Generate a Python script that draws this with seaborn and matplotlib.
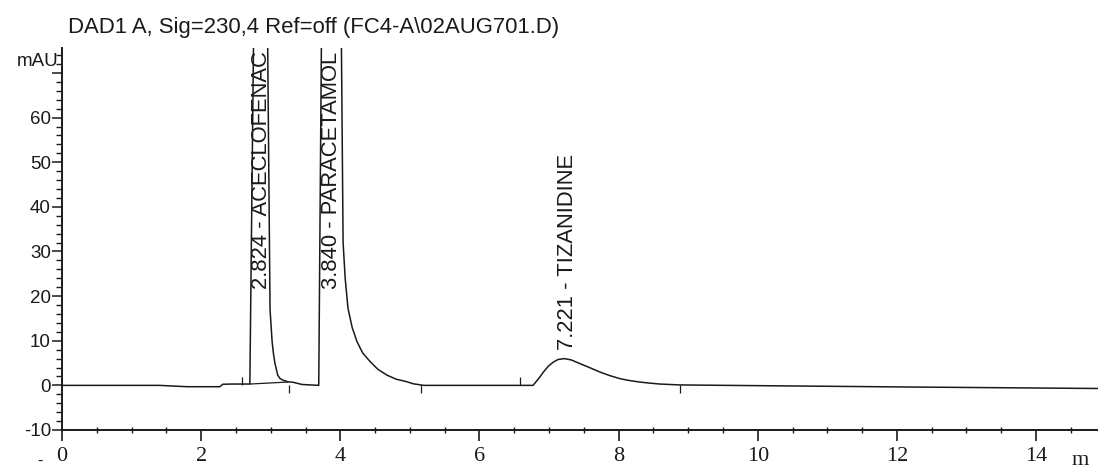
import numpy as np
import pandas as pd
import matplotlib
matplotlib.use("Agg")
import matplotlib.pyplot as plt
from matplotlib.ticker import FixedLocator, MultipleLocator
import matplotlib.transforms as mtransforms
import seaborn as sns

# DAD1 A detector trace: retention time (min) and absorbance (mAU)
time_min = [
    0.00, 1.40, 1.80, 2.27, 2.31, 2.45, 2.60, 2.70,
    2.824, 2.955, 2.99, 3.02, 3.04, 3.06, 3.10, 3.13, 3.17, 3.25, 3.32, 3.45, 3.69,
    3.840, 4.015, 4.04, 4.07, 4.11, 4.17, 4.24, 4.32, 4.43, 4.54, 4.67, 4.80,
    4.96, 5.05, 5.20,
    6.77, 6.85, 6.92, 6.99, 7.06, 7.13, 7.221, 7.32, 7.44, 7.58, 7.73, 7.87,
    8.02, 8.15, 8.30, 8.45, 8.59, 8.88, 9.20,
    12.05, 14.90,
]
signal_mau = [
    0.0, 0.0, -0.3, -0.3, 0.25, 0.3, 0.3, 0.3,
    180.0, 78.0, 17.0, 9.8, 7.0, 5.0, 2.3, 1.6, 1.2, 0.8, 0.7, 0.2, 0.0,
    300.0, 78.0, 32.0, 24.0, 17.3, 13.0, 9.8, 7.3, 5.3, 3.6, 2.3, 1.4,
    0.8, 0.35, 0.0,
    0.0, 1.5, 3.0, 4.3, 5.2, 5.8, 6.0, 5.7, 4.9, 4.0, 3.0, 2.2,
    1.5, 1.1, 0.75, 0.5, 0.3, 0.1, 0.05,
    -0.35, -0.7,
]

# identified peaks
peak_rt = [2.824, 3.840, 7.221]
peak_names = ["ACECLOFENAC", "PARACETAMOL", "TIZANIDINE"]

# integration baseline drawn beneath the first peak
base_t = [2.70, 3.25]
base_mau = [0.3, 0.75]

# peak start / end event marks (+1 above the trace, -1 below)
event_t = [2.58, 3.26, 5.16, 6.58, 8.88]
event_side = [1, -1, -1, 1, -1]

x_ticks = [0, 2, 4, 6, 8, 10, 12, 14]
y_ticks = [-10, 0, 10, 20, 30, 40, 50, 60, 70]
y_tick_labels = ["-10", "0", "10", "20", "30", "40", "50", "60", ""]

title = r"DAD1 A, Sig=230,4 Ref=off (FC4-A\02AUG701.D)"

sns.set_style("ticks")
plt.rcParams["font.family"] = ["Liberation Sans", "DejaVu Sans"]

fig = plt.figure(figsize=(10.98, 4.71), dpi=100)
W, H = 1098, 471
ax = fig.add_axes([62 / W, 41 / H, (W - 62) / W, (430 - 48) / H])

ink = "#1a1a1a"
trace = pd.DataFrame({"t": time_min, "mau": signal_mau})
sns.lineplot(data=trace, x="t", y="mau", sort=False, estimator=None,
             color=ink, linewidth=1.1, ax=ax)
sns.lineplot(x=base_t, y=base_mau, sort=False, estimator=None,
             color=ink, linewidth=0.9, ax=ax)

ev = np.array(event_side, dtype=float)
ax.vlines(event_t, 0.0, ev * 1.8, color=ink, linewidth=0.9)

ax.set_xlim(0, 14.89)
ax.set_ylim(-10, 75.6)

# peak annotations
for rt, name in zip(peak_rt, peak_names):
    h = float(np.interp(rt, time_min, signal_mau))
    ax.text(rt + 0.04, min(h, 19.5) + 2.0, f"{rt:.3f} - {name}",
            rotation=90, ha="center", va="bottom", fontsize=15.8,
            color=ink, clip_on=False)

# axes styling
for side in ("top", "right"):
    ax.spines[side].set_visible(False)
for side in ("left", "bottom"):
    ax.spines[side].set_linewidth(1.4)
    ax.spines[side].set_color(ink)

ax.xaxis.set_major_locator(FixedLocator(x_ticks))
ax.xaxis.set_minor_locator(MultipleLocator(0.5))
ax.set_xticklabels([str(v) for v in x_ticks], family=["Liberation Serif", "DejaVu Serif"],
                   fontsize=16)
ax.yaxis.set_major_locator(FixedLocator(y_ticks))
ax.yaxis.set_minor_locator(MultipleLocator(2))
ax.set_yticklabels(y_tick_labels, fontsize=13.5)

ax.tick_params(axis="x", which="major", direction="out", length=8, width=1.2,
               color=ink, pad=4, labelcolor=ink)
ax.tick_params(axis="x", which="minor", direction="inout", length=5, width=1.0, color=ink)
ax.tick_params(axis="y", which="major", direction="out", length=7, width=1.1,
               color=ink, pad=1, labelcolor=ink)
ax.tick_params(axis="y", which="minor", direction="out", length=4, width=1.0, color=ink)
ax.set_xlabel("")
ax.set_ylabel("")

# unit labels
ax.text(-0.05, 72.5, "mAU", ha="right", va="center", fontsize=13.5, color=ink, clip_on=False)
blend = mtransforms.blended_transform_factory(ax.transData, ax.transAxes)
ax.text(14.63, -0.08, "m", transform=blend, ha="center", va="center",
        family=["Liberation Serif", "DejaVu Serif"], fontsize=16, color=ink, clip_on=False)

fig.text(68 / W, 1 - 28 / H, title, ha="left", va="center", fontsize=15.9, color=ink)
fig.text(40 / W, 1 - 461 / H, "-", ha="center", va="center", fontsize=12, color=ink)

fig.savefig("out.png", dpi=100, facecolor="white")
